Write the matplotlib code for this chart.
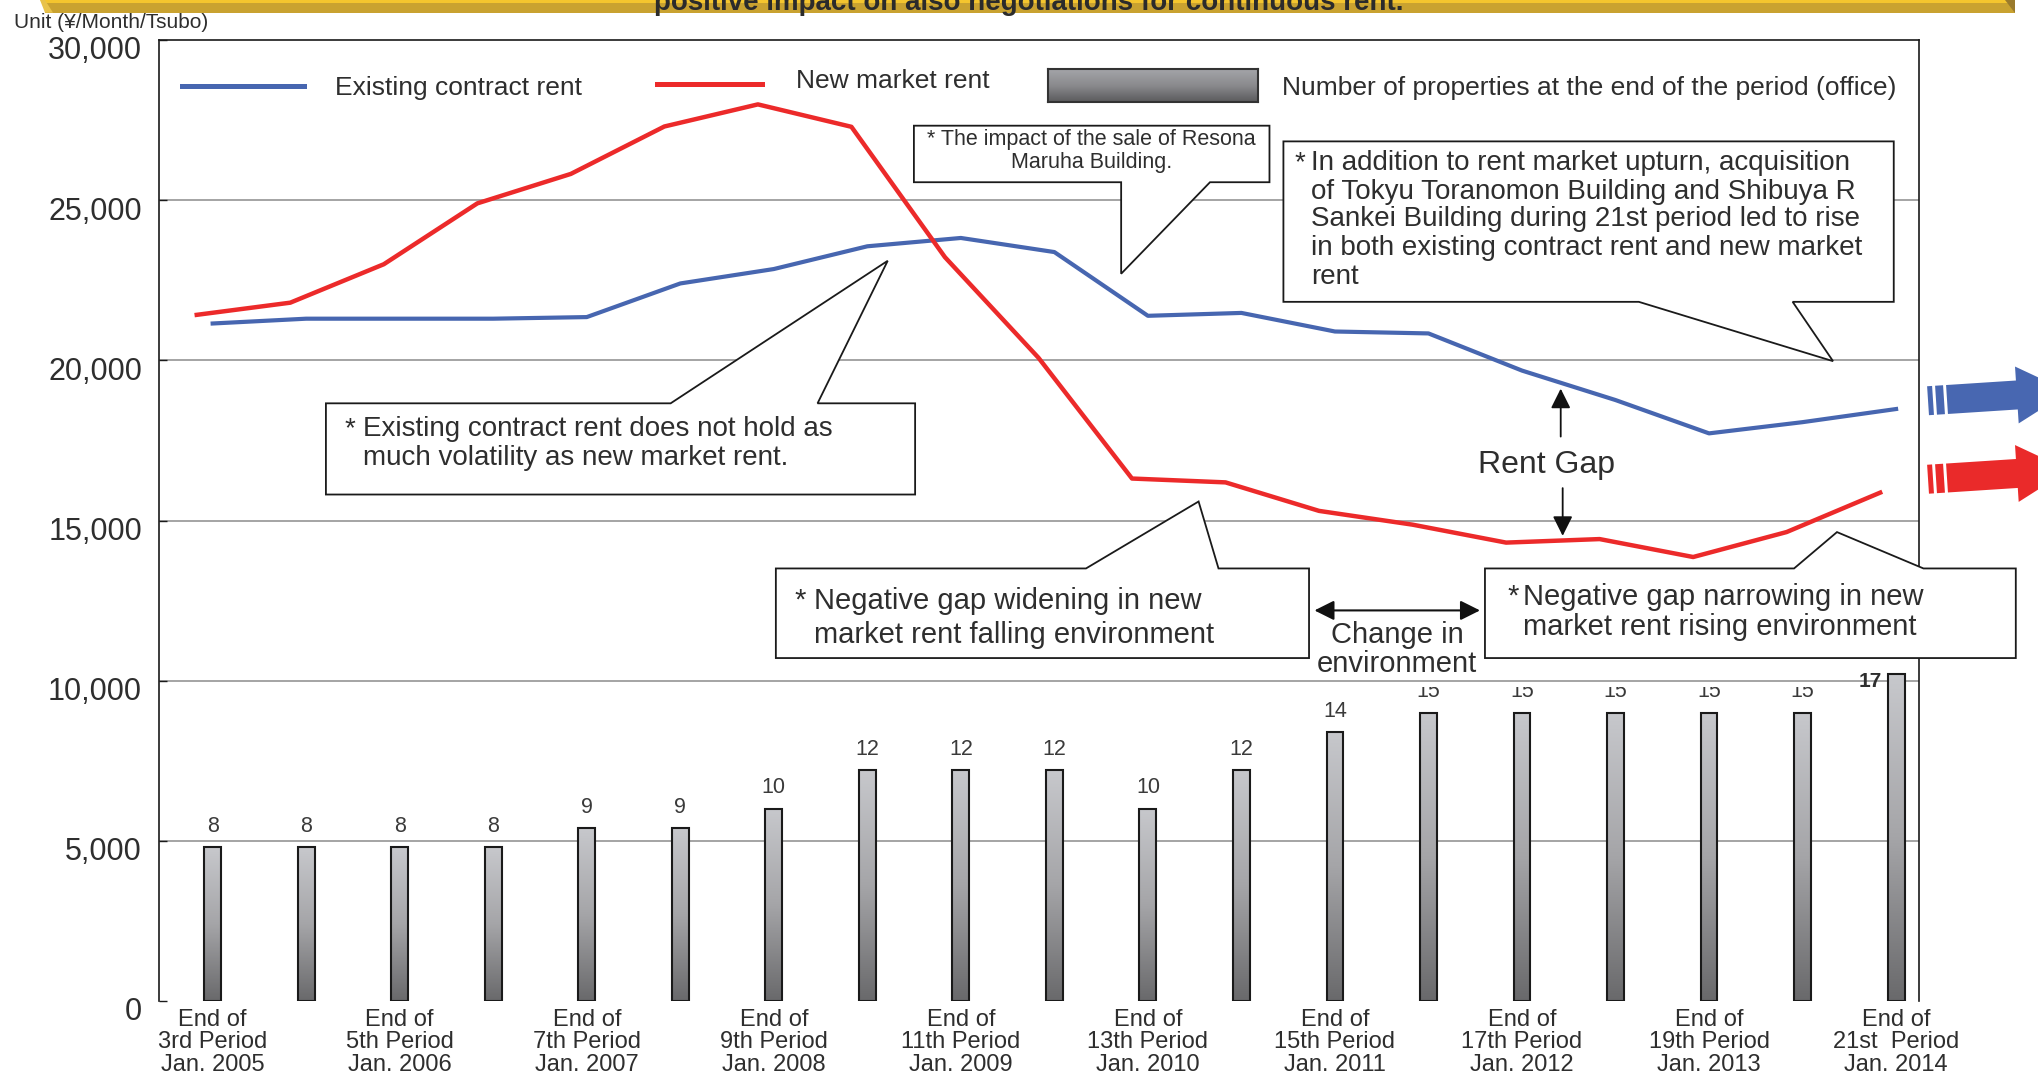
import numpy as np
import matplotlib
matplotlib.use('Agg')
import matplotlib.pyplot as plt
from matplotlib.patches import Polygon
from matplotlib.lines import Line2D
from matplotlib.colors import LinearSegmentedColormap
from matplotlib.transforms import ScaledTranslation, Bbox, TransformedBbox

plt.rcParams['font.family'] = ['Liberation Sans', 'DejaVu Sans']

# ---------------- data ----------------
periods = ['3rd', '4th', '5th', '6th', '7th', '8th', '9th', '10th', '11th', '12th',
           '13th', '14th', '15th', '16th', '17th', '18th', '19th', '20th', '21st']
x_tick_labels = ['End of\n3rd Period\nJan. 2005', 'End of\n5th Period\nJan. 2006',
                 'End of\n7th Period\nJan. 2007', 'End of\n9th Period\nJan. 2008',
                 'End of\n11th Period\nJan. 2009', 'End of\n13th Period\nJan. 2010',
                 'End of\n15th Period\nJan. 2011', 'End of\n17th Period\nJan. 2012',
                 'End of\n19th Period\nJan. 2013', 'End of\n21st  Period\nJan. 2014']
existing_rent = [21150, 21300, 21300, 21300, 21350, 22400, 22850, 23560, 23820, 23380,
                 21390, 21480, 20900, 20840, 19680, 18760, 17720, 18070, 18480]
new_rent = [21420, 21800, 23000, 24900, 25820, 27300, 27990, 27290, 23220, 20080,
            16310, 16190, 15300, 14870, 14310, 14420, 13860, 14640, 15870]
office_count = [8, 8, 8, 8, 9, 9, 10, 12, 12, 12, 10, 12, 14, 15, 15, 15, 15, 15, 17]
y_ticks = [0, 5000, 10000, 15000, 20000, 25000, 30000]
y_tick_labels = ['0', '5,000', '10,000', '15,000', '20,000', '25,000', '30,000']

# ---------------- style ----------------
W, H = 2038, 1074
BLUE = '#4766b0'
RED = '#ec2a2a'
TXT = '#2e2e2e'

fig = plt.figure(figsize=(W / 100, H / 100), dpi=100)
fig.patch.set_facecolor('white')


def fx(px):
    return px / W


def fy(py):
    return 1 - py / H


ax = fig.add_axes([fx(158.6), fy(1001), (1919 - 158.6) / W, (1001 - 40) / H])
x = np.arange(len(periods))
ax.set_xlim(-0.578, 18.245)
ax.set_ylim(y_ticks[0], y_ticks[-1])

# spines
for s in ['top', 'left', 'right']:
    ax.spines[s].set_color('#1a1a1a')
    ax.spines[s].set_linewidth(1.2)
ax.spines['bottom'].set_visible(False)

# grid lines
for yv in y_ticks[1:-1]:
    ax.axhline(yv, color='#8c8c8c', lw=1.1, zorder=0)

# ticks
ax.set_yticks(y_ticks, y_tick_labels)
ax.tick_params(axis='y', left=False, right=True, direction='in', length=6, width=1.0,
               color='#1a1a1a', pad=12, labelsize=22, labelcolor=TXT)
for lbl in ax.get_yticklabels():
    lbl.set_transform(lbl.get_transform() + ScaledTranslation(0, -8 / 100, fig.dpi_scale_trans))
ax.set_xticks(x[::2], x_tick_labels)
ax.tick_params(axis='x', length=0, pad=5.5, labelsize=17, labelcolor=TXT)
for lbl in ax.get_xticklabels():
    lbl.set_linespacing(1.03)

# ---------------- bars (twin axis, count scale) ----------------
ax2 = ax.twinx()
ax2.set_ylim(0, 50)
ax2.axis('off')
bar_cmap = LinearSegmentedColormap.from_list('barg', ['#69696b', '#a5a5a8', '#c7c8cc'])
bars = ax2.bar(x, office_count, width=0.18, facecolor='none', edgecolor='#1a1a1a',
               linewidth=1.5, zorder=3)
grad = np.linspace(1, 0, 256).reshape(-1, 1)
for b in bars:
    x0, y0 = b.get_xy()
    im = ax2.imshow(grad, extent=[x0, x0 + b.get_width(), y0, y0 + b.get_height()],
                    cmap=bar_cmap, aspect='auto', zorder=2.5, interpolation='bilinear')
    im.set_clip_path(b)
ax2.set_xlim(-0.578, 18.245)
ax2.set_ylim(0, 50)

clip = TransformedBbox(Bbox([[-1, 0], [20, 16.35]]), ax2.transData)
for i, c in enumerate(office_count):
    if i == len(office_count) - 1:
        ax2.annotate(str(c), (x[i], c), xytext=(-10, -5), textcoords='offset points',
                     ha='right', va='center', fontsize=15, fontweight='bold', color=TXT)
    else:
        t = ax2.annotate(str(c), (x[i], c), xytext=(0, 15), textcoords='offset points',
                         ha='center', va='center', fontsize=15.5, color='#3a3a3a')
        t.set_clip_box(clip)
        t.set_clip_on(True)

# ---------------- lines ----------------
ax.plot(x, existing_rent, color=BLUE, lw=3.0, zorder=4, solid_joinstyle='round')
ax.plot(x - 0.17, new_rent, color=RED, lw=3.2, zorder=4, solid_joinstyle='round')


# ---------------- callouts ----------------
def callout(x0, x1, ybot, ytop, side, b0, b1, tip):
    if side == 'bottom':
        pts = [(x0, ytop), (x1, ytop), (x1, ybot), (b1, ybot), tip, (b0, ybot), (x0, ybot)]
    else:
        pts = [(x0, ybot), (x0, ytop), (b0, ytop), tip, (b1, ytop), (x1, ytop), (x1, ybot)]
    ax.add_patch(Polygon(pts, closed=True, facecolor='white', edgecolor='#1a1a1a',
                         lw=1.3, zorder=6, clip_on=False))


def ctext(xp, yp, s, size, ha='left'):
    ax.text(xp, yp, s, fontsize=size, ha=ha, va='center', color=TXT, zorder=7, clip_on=False)


# Resona callout
callout(7.498, 11.300, 25560, 27325, 'bottom', 9.714, 10.664, (9.714, 22703))
ctext(9.393, 26881, '* The impact of the sale of Resona', 15.5, ha='center')
ctext(9.393, 26189, 'Maruha Building.', 15.5, ha='center')

# Existing contract rent callout
callout(1.211, 7.511, 15811, 18658, 'top', 4.897, 6.468, (7.218, 23108))
ctext(1.415, 17841, '*', 20)
ctext(1.612, 17841, 'Existing contract rent does not hold as', 20)
ctext(1.612, 16949, 'much volatility as new market rent.', 20)

# Acquisition callout
callout(11.449, 17.975, 21826, 26835, 'bottom', 15.249, 16.894, (17.326, 19974))
ctext(11.570, 26155, '*', 20)
acq_lines = ['In addition to rent market upturn, acquisition',
             'of Tokyu Toranomon Building and Shibuya R',
             'Sankei Building during 21st period led to rise',
             'in both existing contract rent and new market',
             'rent']
for yy, s in zip([26155, 25260, 24402, 23495, 22609], acq_lines):
    ctext(11.744, yy, s, 20)

# Widening callout
callout(6.022, 11.723, 10706, 13503, 'top', 9.338, 10.755, (10.542, 15593))
ctext(6.216, 12490, '*', 21)
ctext(6.425, 12490, 'Negative gap widening in new', 21)
ctext(6.425, 11436, 'market rent falling environment', 21)

# Narrowing callout
callout(13.604, 19.280, 10706, 13503, 'top', 16.909, 18.293, (17.368, 14638))
ctext(13.850, 12611, '*', 21)
ctext(14.011, 12611, 'Negative gap narrowing in new', 21)
ctext(14.011, 11663, 'market rent rising environment', 21)

# Rent gap
ax.text(14.263, 16746, 'Rent Gap', fontsize=23, ha='center', va='center', color=TXT, zorder=7)
ap = dict(arrowstyle='-|>', color='#111111', lw=1.3, mutation_scale=30, shrinkA=0, shrinkB=0)
ax.annotate('', xy=(14.414, 19116), xytext=(14.414, 17620), arrowprops=ap, zorder=7)
ax.annotate('', xy=(14.435, 14520), xytext=(14.435, 16011), arrowprops=ap, zorder=7)

# Change in environment
ap2 = dict(arrowstyle='<|-|>', color='#111111', lw=1.5, mutation_scale=30, shrinkA=0, shrinkB=0)
ax.annotate('', xy=(13.551, 12193), xytext=(11.781, 12193), arrowprops=ap2, zorder=7)
ax.text(12.664, 11414, 'Change in', fontsize=21, ha='center', va='center', color=TXT, zorder=7)
ax.text(12.664, 10522, 'environment', fontsize=21, ha='center', va='center', color=TXT, zorder=7)


# ---------------- figure decorations ----------------
def fig_poly(pts_px, **kw):
    pts = [(fx(px), fy(py)) for px, py in pts_px]
    fig.add_artist(Polygon(pts, closed=True, transform=fig.transFigure, **kw))


# banner
fig_poly([(45, 3.3), (2015, 3.3), (2015, 12.7), (45, 12.7)], facecolor='#c9a230', edgecolor='none')
fig_poly([(40, 0), (2007, 0), (2007, 3.3), (45, 3.3)], facecolor='#f4c52e', edgecolor='none')
fig_poly([(2005, 0), (2015, 0), (2015, 12.7)], facecolor='#9a7a2c', edgecolor='none')
fig_poly([(40, 0), (45, 0), (53, 12.7), (45, 12.7)], facecolor='#e8c24a', edgecolor='none')
fig.text(fx(1029), fy(10), 'positive impact on also negotiations for continuous rent.',
         ha='center', va='baseline', fontsize=20, fontweight='bold', color='#2b2b2b')

fig.text(fx(14), fy(23), 'Unit (\u00a5/Month/Tsubo)', fontsize=15, ha='left', va='center', color=TXT)

# legend
fig.add_artist(Line2D([fx(182), fx(304)], [fy(86), fy(86)], color=BLUE, lw=3.6,
                      transform=fig.transFigure))
fig.text(fx(335), fy(88), 'Existing contract rent', fontsize=19, ha='left', va='center', color=TXT)
fig.add_artist(Line2D([fx(657), fx(762)], [fy(84), fy(84)], color=RED, lw=3.6,
                      transform=fig.transFigure))
fig.text(fx(796), fy(81), 'New market rent', fontsize=19, ha='left', va='center', color=TXT)
lax = fig.add_axes([fx(1048), fy(101.7), 210 / W, 32.4 / H])
leg_cmap = LinearSegmentedColormap.from_list('legg', ['#5a5a5c', '#8a8a8d', '#a4a5a9'])
lax.imshow(grad, cmap=leg_cmap, aspect='auto', extent=[0, 1, 0, 1], interpolation='bilinear')
lax.set_xticks([])
lax.set_yticks([])
for s in lax.spines.values():
    s.set_color('#333333')
    s.set_linewidth(1.5)
fig.text(fx(1281.5), fy(88), 'Number of properties at the end of the period (office)',
         fontsize=19, ha='left', va='center', color=TXT)


# right-hand trend arrows
def side_arrow(x0, yc, color):
    ang = np.deg2rad(3.7)
    ca, sa = np.cos(ang), np.sin(ang)
    shapes = [
        [(-19, -14.5), (-14, -14.5), (-14, 14.5), (-19, 14.5)],
        [(-11, -14.5), (-3, -14.5), (-3, 14.5), (-11, 14.5)],
        [(0, -14.5), (70, -14.5), (70, -28.5), (122, 0), (70, 28.5), (70, 14.5), (0, 14.5)],
    ]
    for shp in shapes:
        pts = [(x0 + u * ca - v * sa, yc - (u * sa + v * ca)) for u, v in shp]
        fig_poly(pts, facecolor=color, edgecolor='none')


side_arrow(1947, 399.5, '#4867b1')
side_arrow(1947, 478, '#ea2a2a')

fig.savefig('out.png', dpi=100, facecolor='white')
